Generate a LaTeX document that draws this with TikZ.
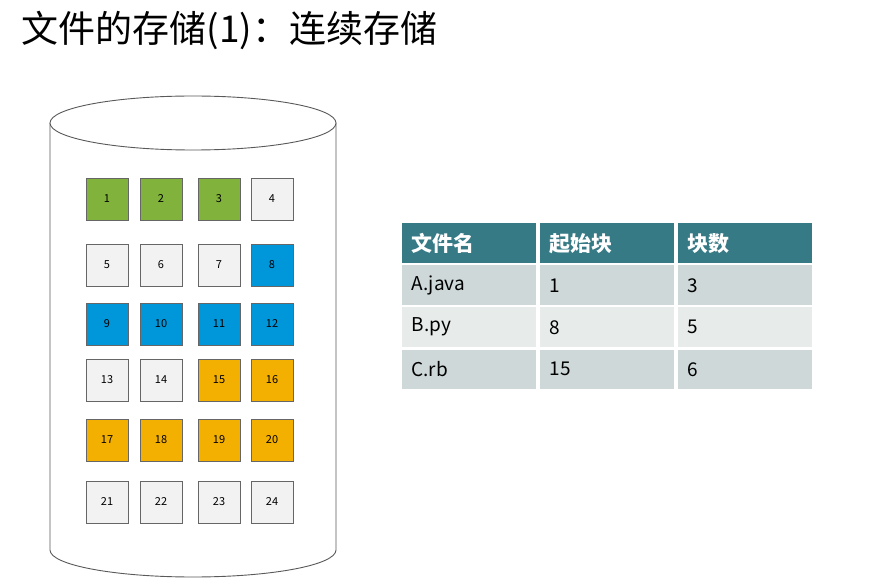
\documentclass[tikz,border=0pt]{standalone}
\usepackage{fontspec}
\setmainfont{Noto Sans CJK SC}
\usetikzlibrary{positioning}
\definecolor{blkgreen}{HTML}{80B23C}
\definecolor{blkblue}{HTML}{0096DA}
\definecolor{blkorange}{HTML}{F4B000}
\definecolor{blkwhite}{HTML}{F2F2F2}
\definecolor{tabhead}{HTML}{367A86}
\definecolor{tabdark}{HTML}{CED8D8}
\definecolor{tablight}{HTML}{E7ECEB}
\tikzset{
  blk/.style={draw=gray!80!black, line width=0.8pt, minimum size=42pt, inner sep=0pt, font=\fontsize{11pt}{12pt}\selectfont},
  cell/.style={minimum width=136pt, minimum height=41pt, inner sep=0pt, anchor=north west, text width=120pt, align=left, font=\fontsize{20pt}{22pt}\selectfont},
}
\begin{document}
\begin{tikzpicture}[x=1pt,y=-1pt]
			\useasboundingbox (0,0) rectangle (894,585);
			% title
			\node[anchor=west, font=\fontsize{37pt}{40pt}\selectfont] (title) at (18,30){文件的存储(1)：连续存储};
			% disk
			\draw[gray!70!black, line width=0.9pt, fill=white] (50,123) -- (50,550) arc[start angle=180, end angle=0, x radius=143, y radius=27] -- (336,123);
			\draw[gray!70!black, line width=0.9pt, fill=white] (193,123) ellipse[x radius=143, y radius=27];
			% blocks
			\foreach \n/\c in {1/blkgreen,2/blkgreen,3/blkgreen,4/blkwhite,5/blkwhite,6/blkwhite,7/blkwhite,8/blkblue,
			  9/blkblue,10/blkblue,11/blkblue,12/blkblue,13/blkwhite,14/blkwhite,15/blkorange,16/blkorange,
			  17/blkorange,18/blkorange,19/blkorange,20/blkorange,21/blkwhite,22/blkwhite,23/blkwhite,24/blkwhite}{
			  \pgfmathtruncatemacro{\col}{mod(\n-1,4)}
			  \pgfmathtruncatemacro{\row}{div(\n-1,4)}
			  \pgfmathsetmacro{\bx}{{107,161,219,272}[\col]}
			  \pgfmathsetmacro{\by}{{199,265,324,380,440,502}[\row]}
			  \node[blk, fill=\c] (b\n) at (\bx,\by){\n};
			}
			% table
			\foreach \r/\fc in {0/tabhead,1/tabdark,2/tablight,3/tabdark}{
			  \pgfmathsetmacro{\ty}{222+42*\r}
			  \foreach \k in {0,1,2}{
			    \pgfmathsetmacro{\tx}{400+138*\k}
			    \node[cell, fill=\fc, draw=white, line width=1.5pt] (t\r\k) at (\tx,\ty){};
			  }
			}
			\node[text=white, font=\bfseries\fontsize{21pt}{22pt}\selectfont, anchor=west] at ([xshift=8pt]t00.west){文件名};
			\node[text=white, font=\bfseries\fontsize{21pt}{22pt}\selectfont, anchor=west] at ([xshift=8pt]t01.west){起始块};
			\node[text=white, font=\bfseries\fontsize{21pt}{22pt}\selectfont, anchor=west] at ([xshift=8pt]t02.west){块数};
			\node[font=\fontsize{19pt}{22pt}\selectfont, anchor=west] at ([xshift=8pt]t10.west){A.java};
			\node[font=\fontsize{19pt}{22pt}\selectfont, anchor=west] at ([xshift=8pt]t11.west){1};
			\node[font=\fontsize{19pt}{22pt}\selectfont, anchor=west] at ([xshift=8pt]t12.west){3};
			\node[font=\fontsize{19pt}{22pt}\selectfont, anchor=west] at ([xshift=8pt]t20.west){B.py};
			\node[font=\fontsize{19pt}{22pt}\selectfont, anchor=west] at ([xshift=8pt]t21.west){8};
			\node[font=\fontsize{19pt}{22pt}\selectfont, anchor=west] at ([xshift=8pt]t22.west){5};
			\node[font=\fontsize{19pt}{22pt}\selectfont, anchor=west] at ([xshift=8pt]t30.west){C.rb};
			\node[font=\fontsize{19pt}{22pt}\selectfont, anchor=west] at ([xshift=8pt]t31.west){15};
			\node[font=\fontsize{19pt}{22pt}\selectfont, anchor=west] at ([xshift=8pt]t32.west){6};
		\end{tikzpicture}
\end{document}
